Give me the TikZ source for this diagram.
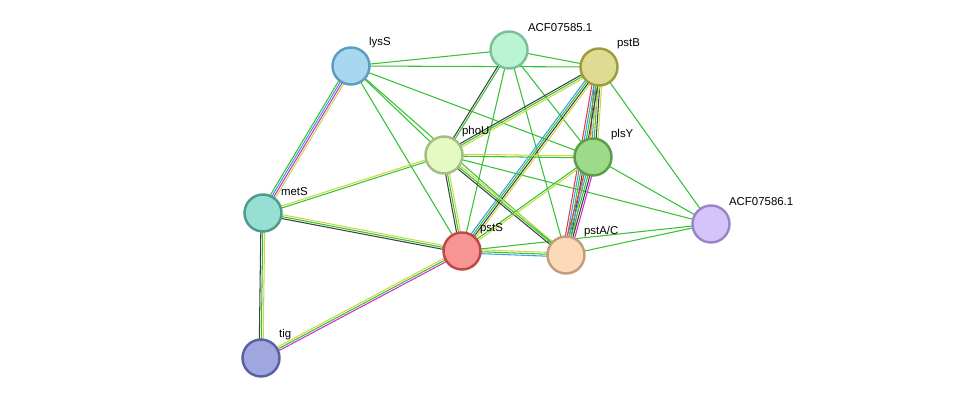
\documentclass[tikz,border=0pt]{standalone}
\usepackage{fontspec}
\setmainfont{Liberation Sans}
\usetikzlibrary{calc}
\definecolor{egreen}{HTML}{33C233}
\definecolor{eyellow}{HTML}{C8D943}
\definecolor{eblue}{HTML}{3F9FE0}
\definecolor{emagenta}{HTML}{D62AD6}
\definecolor{ered}{HTML}{E43E3E}
\definecolor{eblack}{HTML}{404040}
\newcommand\ppiedge[3]{%
  \foreach \c [count=\i] in {#3}{\xdef\nedge{\i}}
  \foreach \c [count=\i] in {#3}{
    \pgfmathsetmacro\off{(\i-(\nedge+1)/2)*1.1}
    \draw[edge,\c] ($(#1)!\off pt!90:(#2)$) -- ($(#2)!\off pt!-90:(#1)$);}}
\begin{document}
\begin{tikzpicture}[x=0.02cm,y=-0.02cm,
    edge/.style = {line width=0.6pt},
    prot/.style = {
      draw,
      circle,
      line width = 1.4pt,
      inner sep = 0pt,
      minimum size = 0.74cm
    },
    lbl/.style = {anchor=south west, inner sep=1pt, font=\fontsize{6.5}{7}\selectfont}
  ]
  \useasboundingbox (0,0) rectangle (976,404);
  % centres
  \coordinate (lysS) at (351,66);
  \coordinate (acf5) at (509,50);
  \coordinate (pstB) at (599,67);
  \coordinate (phoU) at (444,155);
  \coordinate (plsY) at (593,157);
  \coordinate (metS) at (263,213);
  \coordinate (pstS) at (462,251);
  \coordinate (pstAC) at (566,255);
  \coordinate (acf6) at (711,224);
  \coordinate (tig) at (261,358);

  % single evidence
  \foreach \a/\b in {lysS/acf5,lysS/pstB,lysS/phoU,lysS/plsY,lysS/pstS,lysS/pstAC,
      acf5/pstB,acf5/plsY,acf5/pstAC,acf5/pstS,pstB/acf6,phoU/acf6,plsY/acf6,
      pstAC/acf6,pstS/acf6}
    \draw[edge,egreen] (\a) -- (\b);

  % several evidence channels
  \ppiedge{acf5}{phoU}{eblack,egreen}
  \ppiedge{metS}{phoU}{egreen,eyellow}
  \ppiedge{lysS}{metS}{egreen,eblue,emagenta,eyellow}
  \ppiedge{metS}{pstS}{eblack,egreen,eyellow}
  \ppiedge{metS}{tig}{eblack,egreen,eyellow}
  \ppiedge{tig}{pstS}{emagenta,egreen,eyellow}
  \ppiedge{pstB}{phoU}{eblack,egreen,eyellow}
  \ppiedge{pstB}{pstS}{eblue,egreen,eblack,eyellow}
  \ppiedge{pstB}{plsY}{ered,eblue,egreen,eblack,eyellow}
  \ppiedge{pstB}{pstAC}{ered,eblue,egreen,eblack,eyellow}
  \ppiedge{phoU}{pstS}{eblack,egreen,eyellow}
  \ppiedge{phoU}{pstAC}{eblack,egreen,eyellow}
  \ppiedge{phoU}{plsY}{egreen,eyellow}
  \ppiedge{pstS}{pstAC}{eblue,egreen,eyellow}
  \ppiedge{plsY}{pstAC}{ered,eblue,egreen,eblack,emagenta}
  \ppiedge{plsY}{pstS}{egreen,eyellow}

  % proteins
  \node[prot,fill={rgb,255:red,168;green,216;blue,240},draw={rgb,255:red,94;green,155;blue,191}] (nlysS) at (lysS) {};
  \node[prot,fill={rgb,255:red,184;green,245;blue,208},draw={rgb,255:red,124;green,191;blue,152}] (nacf5) at (acf5) {};
  \node[prot,fill={rgb,255:red,222;green,220;blue,147},draw={rgb,255:red,159;green,155;blue,64}] (npstB) at (pstB) {};
  \node[prot,fill={rgb,255:red,229;green,249;blue,194},draw={rgb,255:red,164;green,190;blue,130}] (nphoU) at (phoU) {};
  \node[prot,fill={rgb,255:red,155;green,219;blue,138},draw={rgb,255:red,92;green,156;blue,74}] (nplsY) at (plsY) {};
  \node[prot,fill={rgb,255:red,150;green,223;blue,210},draw={rgb,255:red,79;green,154;blue,142}] (nmetS) at (metS) {};
  \node[prot,fill={rgb,255:red,247;green,149;blue,149},draw={rgb,255:red,192;green,71;blue,71}] (npstS) at (pstS) {};
  \node[prot,fill={rgb,255:red,252;green,218;blue,184},draw={rgb,255:red,197;green,157;blue,124}] (npstAC) at (pstAC) {};
  \node[prot,fill={rgb,255:red,213;green,196;blue,250},draw={rgb,255:red,155;green,133;blue,201}] (nacf6) at (acf6) {};
  \node[prot,fill={rgb,255:red,159;green,166;blue,224},draw={rgb,255:red,89;green,97;blue,160}] (ntig) at (tig) {};

  % labels
  \node[lbl] at (367,50) {lysS};
  \node[lbl] at (526,34) {ACF07585.1};
  \node[lbl] at (615,51) {pstB};
  \node[lbl] at (460,139) {phoU};
  \node[lbl] at (609,142) {plsY};
  \node[lbl] at (279,198) {metS};
  \node[lbl] at (478,236) {pstS};
  \node[lbl] at (582,239) {pstA/C};
  \node[lbl] at (727,208) {ACF07586.1};
  \node[lbl] at (277,342) {tig};
\end{tikzpicture}
\end{document}
